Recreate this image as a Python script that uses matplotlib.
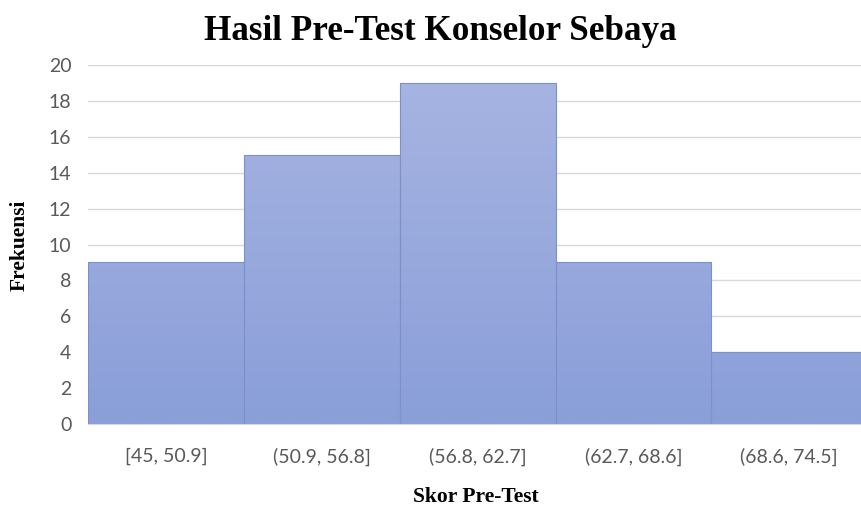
import matplotlib.pyplot as plt
import numpy as np
from matplotlib.colors import LinearSegmentedColormap

# Data
kelas = ['[45, 50.9]', '(50.9, 56.8]', '(56.8, 62.7]', '(62.7, 68.6]', '(68.6, 74.5]']
frekuensi = [9, 15, 19, 9, 4]
y_ticks = list(range(0, 21, 2))

fig = plt.figure(figsize=(8.61, 5.07), dpi=100)
ax = fig.add_axes([88 / 861, 1 - 424 / 507, 1 - 88 / 861, (424 - 65) / 507])

x = np.arange(len(kelas))
bars = ax.bar(x, frekuensi, width=1.0, color='none', edgecolor='#7d90c9',
              linewidth=0.8, zorder=3)

# Gradien warna pada batang (atas lebih terang)
cmap = LinearSegmentedColormap.from_list('grad', ['#8a9ed8', '#a7b5e2'])
grad = np.linspace(0, 1, 256).reshape(-1, 1)
for b in bars:
    im = ax.imshow(grad, cmap=cmap, origin='lower', aspect='auto',
                   extent=[b.get_x(), b.get_x() + b.get_width(), 0, 20],
                   vmin=0, vmax=1, zorder=2)
    im.set_clip_path(b)

ax.set_xlim(-0.5, 4.46)
ax.set_ylim(0, 20)
ax.set_yticks(y_ticks)
ax.set_xticks(x)
ax.set_xticklabels(kelas)
ax.yaxis.grid(True, color='#d9d9d9', linewidth=1.0, zorder=0)
ax.set_axisbelow(True)
for s in ['top', 'right', 'left']:
    ax.spines[s].set_visible(False)
ax.spines['bottom'].set_color('#d9d9d9')
ax.tick_params(length=0, labelsize=14, labelcolor='#595959')
ax.tick_params(axis='y', pad=12)
ax.tick_params(axis='x', pad=17)
for lbl in ax.get_xticklabels() + ax.get_yticklabels():
    lbl.set_fontfamily('Lato')

fig.text(440 / 861, 1 - 31 / 507, 'Hasil Pre-Test Konselor Sebaya', ha='center', va='center',
         fontsize=25.3, fontweight='bold', family='Liberation Serif')
fig.text(476 / 861, 1 - 497 / 507, 'Skor Pre-Test', ha='center', va='center',
         fontsize=15.5, fontweight='bold', family='Liberation Serif')
fig.text(20 / 861, 1 - 245 / 507, 'Frekuensi', ha='center', va='center', rotation=90,
         fontsize=15.5, fontweight='bold', family='Liberation Serif')

fig.savefig('out.png', dpi=100)
